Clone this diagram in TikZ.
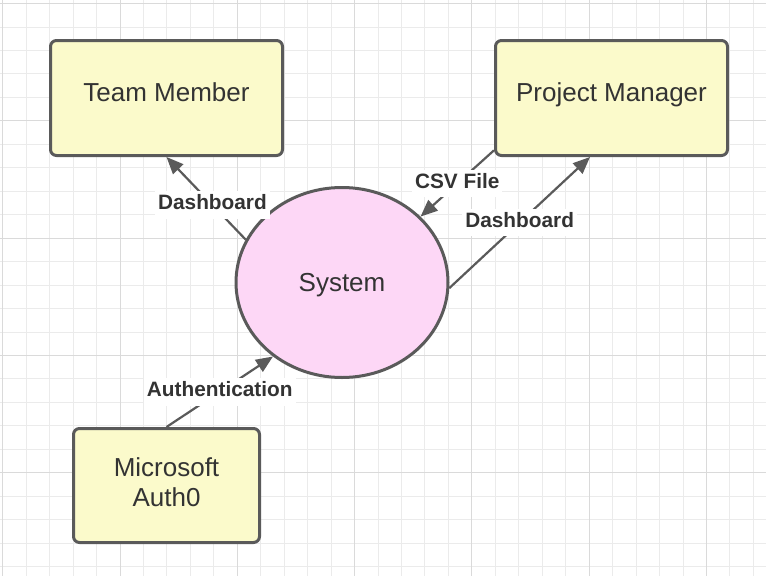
\documentclass[tikz,border=0pt]{standalone}
\usepackage{fontspec}
\setmainfont{Liberation Sans}
\usepackage{tikz}
\usetikzlibrary{arrows.meta,shapes.geometric,positioning}

\definecolor{boxfill}{HTML}{FBFACB}
\definecolor{sysfill}{HTML}{FDD7F6}
\definecolor{edgegray}{HTML}{5A5A5A}
\definecolor{textgray}{HTML}{333333}
\definecolor{minorgrid}{HTML}{EBEBEB}
\definecolor{majorgrid}{HTML}{DADADA}

\begin{document}
\begin{tikzpicture}
[x=1pt,y=-1pt,->,>={Triangle[length=17pt,width=14pt]},
  line width=2.2pt,draw=edgegray,
  entity/.style={rectangle,rounded corners=6pt,draw=edgegray,line width=3pt,fill=boxfill,
    text=textgray,font=\fontsize{26}{30}\selectfont,align=center,text height=19pt,text depth=11.4pt,
    minimum width=232pt,minimum height=115pt,inner sep=0pt},
  process/.style={ellipse,draw=edgegray,line width=3pt,fill=sysfill,text=textgray,
    font=\fontsize{26}{30}\selectfont,text height=18.6pt,text depth=0pt,
    minimum width=212pt,minimum height=190pt,inner sep=0pt},
  flow/.style={fill=white,text=textgray,font=\bfseries\fontsize{20.8}{24}\selectfont,
    text height=15.5pt,text depth=6pt,inner sep=3pt},
  minorline/.style={-,draw=minorgrid,line width=1pt},
  majorline/.style={-,draw=majorgrid,line width=1pt}]

  \useasboundingbox[fill=white] (0,0) rectangle (766,576);

  % grid
  \foreach \g in {0,...,32}
    \draw[minorline] ({2.7+23.46*\g},0) -- ({2.7+23.46*\g},576);
  \foreach \g in {0,...,24}
    \draw[minorline] (0,{3.6+23.46*\g}) -- (766,{3.6+23.46*\g});
  \foreach \g in {0,...,6}
    \draw[majorline] ({2.7+117.3*\g},0) -- ({2.7+117.3*\g},576);
  \foreach \g in {0,...,4}
    \draw[majorline] (0,{3.6+117.3*\g}) -- (766,{3.6+117.3*\g});

  \node[entity] (member) at 		(166.5,98) 	{Team Member};
  \node[entity] (manager) at 		(611.5,98) 	{Project Manager};
  \node[entity,minimum width=186pt,minimum height=114pt,text height=49pt,text depth=7.4pt] (auth) at 	(166.5,485.5) 	{Microsoft\\Auth0};

  \node[process] (system) at 		(342,282.5) 	{System};

  \foreach \from/\to/\where/\what in {system.156/member.south/0.42/Dashboard,manager.204/system.40/0.5/CSV File,system.-3/manager.250/0.5/Dashboard,auth.north/system.227/0.5/Authentication}
    \draw (\from) -- node[flow,pos=\where] {\what} (\to);

\end{tikzpicture}
\end{document}
